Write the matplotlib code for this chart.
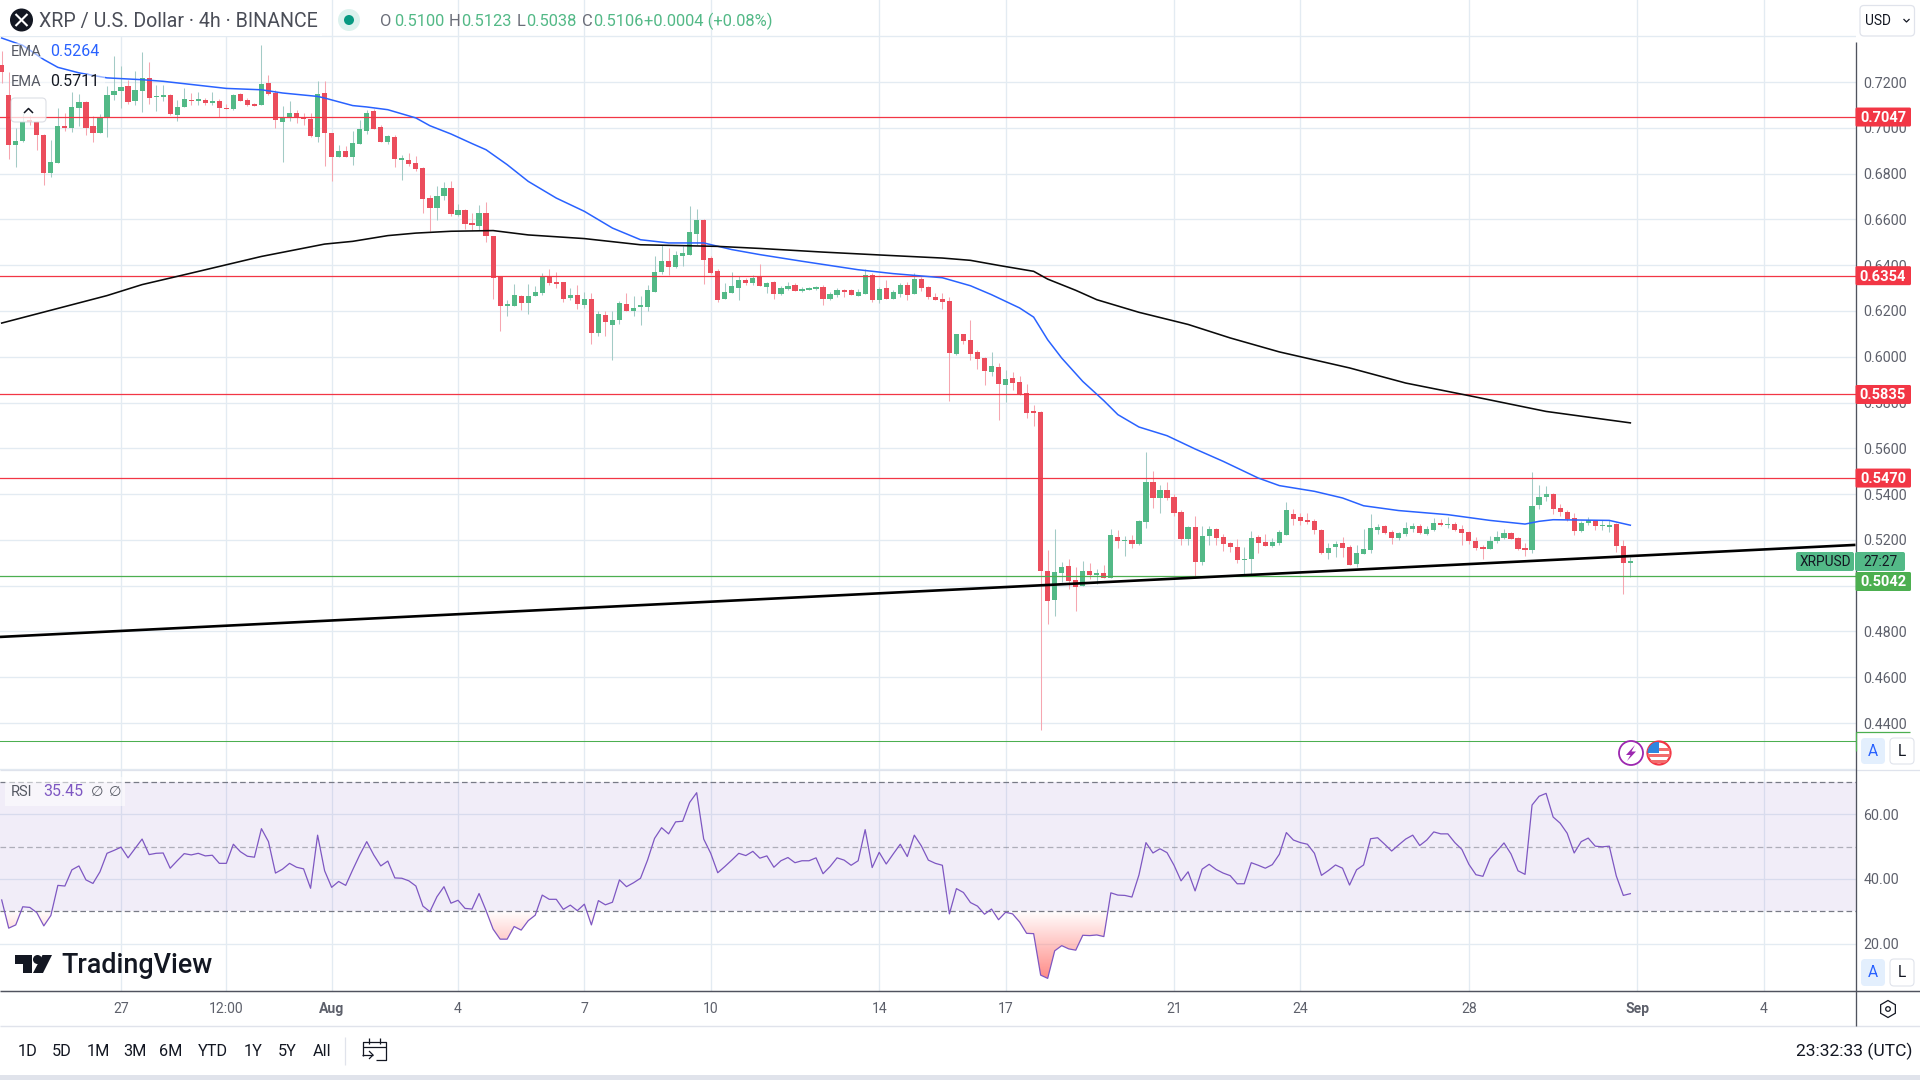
import numpy as np
import matplotlib
matplotlib.use("Agg")
import matplotlib.pyplot as plt
from matplotlib.patches import Rectangle, FancyBboxPatch, Circle, Polygon, RegularPolygon, PathPatch
from matplotlib.path import Path

plt.rcParams['font.family'] = ['Roboto', 'DejaVu Sans']

highs = [.7334,.7242,.7000,.7065,.7057,.7028,.6973,.6948,.7086,.7065,
 .7155,.7148,.7118,.7050,.7062,.7184,.7315,.7268,.7210,.7247,
 .7329,.7286,.7188,.7188,.7148,.7123,.7174,.7152,.7155,.7130,
 .7155,.7126,.7105,.7148,.7152,.7130,.7108,.7363,.7232,.7164,
 .7094,.7116,.7079,.7065,.7065,.7203,.7206,.6979,.6926,.6919,
 .6984,.7035,.7079,.7082,.7014,.6970,.6970,.6883,.6890,.6875,
 .6829,.6705,.6744,.6762,.6769,.6668,.6645,.6628,.6664,.6674,
 .6529,.6351,.6249,.6319,.6271,.6319,.6307,.6366,.6385,.6370,
 .6328,.6300,.6315,.6281,.6278,.6198,.6198,.6198,.6242,.6278,
 .6264,.6267,.6315,.6438,.6489,.6475,.6460,.6482,.6660,.6647,
 .6603,.6441,.6385,.6322,.6372,.6354,.6344,.6358,.6406,.6326,
 .6332,.6310,.6328,.6322,.6305,.6305,.6310,.6315,.6284,.6300,
 .6297,.6296,.6296,.6383,.6366,.6305,.6337,.6293,.6322,.6326,
 .6366,.6347,.6310,.6278,.6278,.6262,.6101,.6101,.6162,.6031,
 .5999,.6022,.5974,.5943,.5935,.5917,.5882,.5791,.5764,.5157,
 .5249,.5105,.5118,.5083,.5109,.5100,.5074,.5092,.5249,.5245,
 .5218,.5223,.5288,.5585,.5502,.5441,.5454,.5402,.5332,.5262,
 .5306,.5262,.5259,.5253,.5227,.5192,.5205,.5170,.5240,.5223,
 .5227,.5208,.5244,.5367,.5336,.5317,.5317,.5291,.5249,.5186,
 .5196,.5214,.5179,.5179,.5249,.5314,.5271,.5266,.5245,.5236,
 .5280,.5275,.5271,.5262,.5297,.5293,.5301,.5277,.5266,.5239,
 .5214,.5179,.5218,.5240,.5249,.5236,.5214,.5188,.5498,.5441,
 .5437,.5405,.5358,.5332,.5319,.5284,.5301,.5288,.5288,.5288,
 .5273,.5201,.5123]
lows = [.7196,.6864,.6827,.6936,.7014,.6901,.6751,.6784,.6848,.6984,
 .6980,.7006,.6970,.6936,.6977,.6958,.7123,.7086,.7105,.7101,
 .7067,.7105,.7075,.7116,.7054,.7028,.7091,.7101,.7101,.7101,
 .7101,.7047,.7082,.7079,.7116,.7097,.7094,.7101,.7145,.7000,
 .6849,.7028,.7021,.7014,.6958,.6936,.6832,.6766,.6872,.6872,
 .6839,.6931,.6974,.6995,.6936,.6931,.6827,.6770,.6834,.6810,
 .6628,.6548,.6596,.6686,.6616,.6616,.6558,.6555,.6555,.6500,
 .6252,.6111,.6179,.6223,.6205,.6188,.6267,.6271,.6315,.6300,
 .6238,.6249,.6210,.6213,.6057,.6092,.6089,.5987,.6144,.6198,
 .6179,.6140,.6201,.6284,.6363,.6358,.6387,.6398,.6446,.6489,
 .6319,.6363,.6240,.6254,.6280,.6249,.6315,.6315,.6310,.6280,
 .6254,.6271,.6293,.6286,.6281,.6290,.6290,.6227,.6249,.6261,
 .6261,.6268,.6267,.6275,.6240,.6236,.6251,.6251,.6262,.6249,
 .6275,.6289,.6254,.6248,.6210,.5808,.6009,.6057,.5987,.5948,
 .5878,.5917,.5725,.5804,.5856,.5834,.5734,.5699,.4371,.4834,
 .4869,.5017,.4987,.4891,.5000,.5030,.5009,.5032,.5035,.5166,
 .5131,.5163,.5179,.5253,.5341,.5319,.5376,.5306,.5179,.5179,
 .5039,.5092,.5179,.5179,.5153,.5148,.5100,.5048,.5048,.5144,
 .5172,.5170,.5179,.5223,.5266,.5266,.5269,.5227,.5140,.5118,
 .5127,.5127,.5092,.5083,.5140,.5144,.5227,.5227,.5183,.5201,
 .5218,.5236,.5227,.5223,.5240,.5262,.5253,.5240,.5179,.5183,
 .5157,.5118,.5160,.5188,.5205,.5202,.5157,.5131,.5144,.5336,
 .5371,.5314,.5306,.5284,.5223,.5236,.5266,.5245,.5245,.5236,
 .5148,.4965,.5038]
opens = [.7276,.7145,.6923,.6941,.7035,.7024,.6970,.6804,.6848,.7009,
 .7000,.7086,.7114,.7009,.6979,.7041,.7145,.7159,.7184,.7118,
 .7162,.7219,.7133,.7133,.7145,.7057,.7092,.7123,.7118,.7123,
 .7110,.7118,.7088,.7083,.7149,.7123,.7104,.7101,.7197,.7153,
 .7024,.7046,.7066,.7047,.7040,.6961,.7153,.6979,.6874,.6900,
 .6871,.6931,.6987,.7075,.7005,.6939,.6961,.6861,.6861,.6848,
 .6826,.6695,.6651,.6703,.6738,.6620,.6642,.6585,.6572,.6629,
 .6529,.6351,.6223,.6223,.6267,.6236,.6267,.6280,.6354,.6328,
 .6328,.6258,.6271,.6227,.6254,.6105,.6184,.6140,.6162,.6232,
 .6198,.6216,.6216,.6284,.6372,.6420,.6393,.6441,.6446,.6537,
 .6599,.6433,.6376,.6254,.6280,.6302,.6337,.6323,.6353,.6306,
 .6328,.6275,.6297,.6315,.6288,.6293,.6297,.6306,.6254,.6271,
 .6293,.6293,.6267,.6275,.6358,.6249,.6302,.6254,.6275,.6315,
 .6275,.6341,.6306,.6262,.6254,.6245,.6013,.6101,.6074,.6022,
 .5996,.5935,.5957,.5878,.5909,.5891,.5843,.5764,.5760,.5065,
 .4939,.5057,.5087,.5026,.5000,.5065,.5048,.5057,.5035,.5214,
 .5196,.5201,.5182,.5280,.5454,.5384,.5419,.5389,.5323,.5205,
 .5258,.5105,.5218,.5249,.5214,.5188,.5170,.5113,.5118,.5214,
 .5192,.5175,.5188,.5223,.5314,.5301,.5288,.5284,.5245,.5144,
 .5170,.5188,.5170,.5096,.5140,.5157,.5245,.5262,.5236,.5210,
 .5227,.5249,.5262,.5227,.5245,.5275,.5266,.5271,.5249,.5236,
 .5196,.5166,.5162,.5196,.5210,.5231,.5210,.5166,.5157,.5354,
 .5389,.5402,.5341,.5323,.5297,.5240,.5275,.5284,.5259,.5258,
 .5271,.5175,.5100]
closes = [.7242,.6926,.6942,.7024,.7024,.6967,.6801,.6852,.7009,.7000,
 .7092,.7114,.7000,.6977,.7047,.7145,.7161,.7178,.7114,.7166,
 .7219,.7132,.7140,.7145,.7059,.7092,.7127,.7116,.7127,.7110,
 .7118,.7085,.7083,.7145,.7118,.7101,.7097,.7193,.7149,.7033,
 .7047,.7066,.7046,.7040,.6964,.7149,.6979,.6874,.6900,.6874,
 .6935,.6996,.7066,.6996,.6939,.6965,.6865,.6865,.6843,.6821,
 .6690,.6651,.6703,.6738,.6625,.6642,.6581,.6577,.6629,.6529,
 .6345,.6223,.6232,.6271,.6236,.6267,.6284,.6354,.6323,.6319,
 .6254,.6271,.6232,.6254,.6105,.6188,.6153,.6162,.6236,.6198,
 .6213,.6227,.6293,.6372,.6420,.6393,.6446,.6454,.6546,.6599,
 .6424,.6367,.6249,.6284,.6310,.6337,.6323,.6345,.6310,.6323,
 .6275,.6302,.6310,.6288,.6297,.6297,.6306,.6254,.6275,.6293,
 .6284,.6271,.6284,.6358,.6249,.6297,.6254,.6284,.6315,.6271,
 .6341,.6302,.6262,.6249,.6240,.6018,.6101,.6070,.6013,.5991,
 .5939,.5961,.5882,.5904,.5887,.5839,.5756,.5756,.5065,.4934,
 .5061,.5083,.5022,.4996,.5065,.5048,.5057,.5035,.5223,.5196,
 .5201,.5183,.5284,.5454,.5384,.5419,.5384,.5319,.5205,.5258,
 .5105,.5218,.5249,.5210,.5183,.5170,.5113,.5118,.5210,.5188,
 .5175,.5192,.5236,.5332,.5293,.5284,.5280,.5245,.5144,.5166,
 .5183,.5166,.5092,.5144,.5162,.5253,.5258,.5231,.5210,.5231,
 .5253,.5262,.5231,.5249,.5275,.5266,.5271,.5245,.5231,.5196,
 .5166,.5162,.5196,.5214,.5231,.5205,.5162,.5157,.5349,.5389,
 .5402,.5336,.5323,.5293,.5240,.5275,.5288,.5262,.5262,.5266,
 .5175,.5100,.5106]
rsi = [33.5,24.8,25.8,31.4,31.2,29.6,25.5,28.7,38.0,37.8,
 42.8,44.0,39.7,38.6,42.2,47.9,48.8,49.8,46.5,49.4,
 52.3,47.5,47.9,48.0,43.3,45.6,47.8,47.4,47.9,47.1,
 47.3,44.8,44.8,50.7,48.4,47.0,46.7,55.5,51.5,41.8,
 43.0,44.8,43.6,43.1,37.1,53.5,42.5,37.4,39.2,38.0,
 42.8,47.4,51.5,47.4,44.0,45.5,40.3,40.2,39.4,37.8,
 31.6,29.9,34.5,37.6,32.5,33.4,30.9,30.7,35.5,30.2,
 24.5,21.4,21.4,25.3,24.2,27.1,28.8,35.0,33.7,33.7,
 30.6,31.9,30.2,32.2,25.8,33.3,32.0,32.8,39.7,37.6,
 38.8,40.2,45.8,52.5,55.8,53.9,57.6,57.8,63.6,66.6,
 52.3,47.9,41.9,43.8,45.8,47.9,47.2,48.5,46.4,47.1,
 43.6,45.6,46.6,45.0,45.6,45.6,46.5,41.6,43.8,46.5,
 45.8,44.2,45.6,55.2,43.5,48.2,44.6,47.7,50.7,46.9,
 53.5,50.2,45.8,44.8,44.2,29.2,37.0,35.8,32.7,31.6,
 29.1,30.7,27.4,29.7,29.2,26.7,23.2,23.1,10.3,9.3,
 17.8,19.4,18.4,18.0,22.6,22.5,22.7,22.2,35.7,35.0,
 34.9,34.4,41.2,51.2,48.0,49.3,48.1,44.2,39.4,42.2,
 36.3,43.0,44.5,42.9,41.8,41.0,38.5,38.5,45.0,44.2,
 43.3,44.4,47.6,54.3,52.0,51.2,50.7,47.9,41.1,42.6,
 44.3,43.3,38.1,42.8,44.3,52.4,52.7,50.7,48.6,50.5,
 52.3,53.5,50.3,52.0,54.5,53.9,53.9,51.2,49.1,44.5,
 41.3,40.8,46.2,48.6,51.1,47.7,42.5,41.4,62.8,65.5,
 66.4,59.1,57.2,54.1,48.0,51.5,52.6,50.1,49.9,50.1,
 40.9,34.9,35.45]

ema50_bars = [0,3,6,8,11,15,20,23,32,37,40,45,46,50,52,55,59,61,64,67,69,72,75,79,83,87,91,
 95,100,104,108,114,122,127,134,138,141,145,147,149,151,154,157,159,162,166,170,174,179,182,
 187,191,194,199,206,212,217,219,221,229,232]
ema50_vals = [.7392,.7360,.7298,.7264,.7240,.7218,.7210,.7203,.7172,.7166,.7152,.7137,.7130,.7097,.7091,.7079,
 .7043,.7009,.6973,.6931,.6904,.6839,.6766,.6693,.6635,.6562,.6511,
 .6497,.6497,.6468,.6446,.6417,.6380,.6363,.6345,.6310,.6271,.6213,.6173,.6074,.5994,.5892,.5808,
 .5747,.5693,.5655,.5597,.5543,.5470,.5437,.5412,.5383,.5349,.5328,.5310,.5285,.5269,.5281,.5288,.5285,.5264]
ema200_bars = [0,7,15,20,26,37,46,50,55,59,64,70,75,83,91,102,108,117,126,134,138,142,147,149,153,156,162,169,175,182,192,200,209,220,232]
ema200_vals = [.6147,.6203,.6267,.6315,.6358,.6438,.6492,.6504,.6529,.6540,.6548,.6551,.6532,.6516,.6489,
 .6482,.6473,.6457,.6443,.6431,.6421,.6399,.6373,.6339,.6290,.6249,.6194,.6141,.6082,.6021,.5951,.5885,.5830,.5761,.5711]

levels_red = [.7047,.6354,.5835,.5470]
level_green = .5042
trend_prices = [.4776,.5178]
price_ticks = [.74,.72,.70,.68,.66,.64,.62,.60,.58,.56,.54,.52,.50,.48,.46,.44,.42]
price_labels = ['','0.7200','0.7000','0.6800','0.6600','0.6400','0.6200','0.6000','0.5800','0.5600','0.5400','0.5200','','0.4800','0.4600','0.4400','']
rsi_ticks = [60,40,20]
rsi_labels = ['60.00','40.00','20.00']
time_pos = [17,32,47,65,83,101,125,143,167,185,209,233,251]
time_labels = ['27','12:00','Aug','4','7','10','14','17','21','24','28','Sep','4']
ranges = ['1D','5D','1M','3M','6M','YTD','1Y','5Y','All']

W, H = 1920, 1080
GRID = '#e3ebf2'; UP = '#53b987'; DOWN = '#eb4d5c'
UPW = '#a3cbc6'; DOWNW = '#f6a6b0'; LRED = '#f23645'; LGRN = '#4caf50'
AXC = '#50535e'; TXT = '#5d606b'

# scales
PX_PER_PRICE = 2289.3
Y072 = 82.0
X0, DX = 1.7, 7.02
AX_R = 1855.5
def pr_at(y): return .72 + (Y072 - y) / PX_PER_PRICE
def y_of(p): return Y072 + (.72 - p) * PX_PER_PRICE
def bar_at(x): return (x - X0) / DX

fig = plt.figure(figsize=(19.2, 10.8), dpi=100, facecolor='white')
def add(l, t, r, b, **k):
    return fig.add_axes([l/W, 1-b/H, (r-l)/W, (b-t)/H], **k)

ax = add(0, 0, AX_R, 770)
ax2 = add(0, 770, AX_R, 991)
xl = (bar_at(0), bar_at(AX_R))
bars = np.arange(len(opens))
o, h, l, c = map(np.array, (opens, highs, lows, closes))
up = c >= o

for a in (ax, ax2):
    a.set_xlim(*xl)
    a.set_xticks(time_pos)
    for s in a.spines.values():
        s.set_visible(False)
    a.grid(True, color=GRID, lw=0.95, zorder=0)
    a.set_axisbelow(True)
    a.yaxis.tick_right()
    a.tick_params(length=0, labelsize=14.2*0.72, labelcolor=TXT, pad=5.8)

ax.set_ylim(pr_at(770), pr_at(0))
ax.set_yticks(price_ticks, price_labels)
ax.tick_params(axis='x', labelbottom=False)

ax.vlines(bars, l, h, colors=[UPW if u else DOWNW for u in up], lw=0.75, zorder=2)
ax.bar(bars, np.maximum(np.abs(c-o), .0005), bottom=np.minimum(o, c), width=0.74,
       color=[UP if u else DOWN for u in up], linewidth=0, zorder=3)
for p in levels_red:
    ax.axhline(p, color=LRED, lw=0.9, zorder=4)
ax.axhline(level_green, color=LGRN, lw=0.9, zorder=4)
ax.plot(ema50_bars, ema50_vals, color='#2962ff', lw=1.1, zorder=5)
ax.plot(ema200_bars, ema200_vals, color='#0a0a0a', lw=1.15, zorder=5)
ax.plot(xl, trend_prices, color='black', lw=1.9, zorder=6, solid_capstyle='butt')
ax.axhline(pr_at(741), color=LGRN, lw=0.75, zorder=4)

# RSI
ax2.set_ylim(30 + (911.3-991)/3.24, 30 + (911.3-770)/3.24)
ax2.set_yticks(rsi_ticks, rsi_labels)
ax2.set_xticklabels(time_labels)
ax2.tick_params(axis='x', pad=8.2, labelsize=14*0.72)
for t, s in zip(ax2.get_xticklabels(), time_labels):
    if s in ('Aug', 'Sep'):
        t.set_fontweight('bold')
ax2.axhspan(30, 70, color='#7e57c2', alpha=.1, lw=0, zorder=1)
for lv, al in ((70, 1), (50, .55), (30, 1)):
    ax2.axhline(lv, color='#787b86', lw=0.9, alpha=al, dashes=(4.5, 2.6), zorder=2)
r = np.array(rsi)
fb = ax2.fill_between(bars, r, 30, where=r < 30, interpolate=True, facecolor='none', edgecolor='none')
path = Path.make_compound_path(*fb.get_paths())
grad = np.zeros((128, 2, 4))
grad[..., :3] = matplotlib.colors.to_rgb('#ff8a85')
grad[..., 3] = np.linspace(0, 1, 128)[:, None]
im = ax2.imshow(grad, extent=(xl[0], xl[1], 9, 30), origin='upper', aspect='auto', zorder=2)
im.set_clip_path(PathPatch(path, transform=ax2.transData))
ax2.set_xlim(*xl)
ax2.set_ylim(30 + (911.3-991)/3.24, 30 + (911.3-770)/3.24)
ax2.plot(bars, r, color='#7e57c2', lw=0.9, zorder=4)

# overlay in pixels for the surrounding chart furniture
ov = fig.add_axes([0, 0, 1, 1], zorder=10)
ov.set_xlim(0, W); ov.set_ylim(H, 0); ov.axis('off'); ov.patch.set_alpha(0)
def T(x, y, s, px=13.4, color=TXT, ha='left', weight='normal', **k):
    return ov.text(x, y, s, fontsize=px*.72, color=color, ha=ha, va='center', fontweight=weight, **k)
def R(x0, y0, x1, y1, fc, alpha=1, z=1):
    ov.add_patch(Rectangle((x0, y0), x1-x0, y1-y0, fc=fc, ec='none', alpha=alpha, zorder=z))
def RB(x0, y0, x1, y1, fc, ec='none', rad=3, alpha=1, z=2, lw=.8):
    ov.add_patch(FancyBboxPatch((x0+rad, y0+rad), x1-x0-2*rad, y1-y0-2*rad,
        boxstyle=f'round,pad={rad},rounding_size={rad}', fc=fc, ec=ec, lw=lw, alpha=alpha, zorder=z))
def L(xs, ys, color, lw=.75, z=3, **k):
    ov.plot(xs, ys, color=color, lw=lw, zorder=z, solid_capstyle=k.pop('cap', 'butt'), **k)

# frame lines
L([0, W], [770, 770], '#dfe3ec', .9)
L([0, W], [991, 991], AXC, 1.05)
L([0, AX_R], [1026, 1026], '#e0e3eb', 1.0)
L([AX_R, W], [1026, 1026], '#e0e3eb', 1.0)
L([AX_R, AX_R], [42, 1026], AXC, 0.95)
L([AX_R, 1910], [732, 732], LGRN, .9)
L([AX_R, AX_R], [732, 751], LGRN, .9, z=4)
R(0, 1075, W, 1080, '#e0e3eb')

# header
R(0, 0, 322, 36, 'white')
ov.add_patch(Circle((21.5, 20), 11.5, fc='#131722', ec='none', zorder=2))
L([15.5, 27.5], [14, 26], 'white', 1.5, z=3); L([15.5, 27.5], [26, 14], 'white', 1.5, z=3)
T(39, 21.5, 'XRP / U.S. Dollar · 4h · BINANCE', 19.7, '#4a4d57')
ov.add_patch(Circle((349, 20), 11, fc='#ddf2ee', ec='none', zorder=2))
ov.add_patch(Circle((349, 20), 5, fc='#089981', ec='none', zorder=3))
GV = '#53b987'; GL = '#6a6d78'
for lx, lab, vx, val in ((380, 'O', 394, '0.5100'), (449, 'H', 461, '0.5123'), (517, 'L', 526, '0.5038'), (582, 'C', 593, '0.5106')):
    T(lx, 21, lab, 16.5, GL); T(vx, 21, val, 16.5, GV)
T(644, 21, '+0.0004 (+0.08%)', 16.5, GV)

# legend rows
R(10, 43, 105, 58, 'white', .55); R(10, 74, 105, 89, 'white', .55)
T(11, 52, 'EMA', 14.6, '#555862'); T(50, 52, '0.5264', 16, '#2962ff')
T(11, 82, 'EMA', 14.6, '#555862'); T(50, 82, '0.5711', 16, '#131722')
RB(11, 98, 46, 122, 'white', '#d1d4dc', 4, .75)
L([24, 28.5, 33], [113, 108.5, 113], '#131722', 1.1)

# right scale furniture
RB(1860, 5.5, 1914.5, 36, 'white', '#e0e3eb', 4, lw=.9)
T(1865, 21, 'USD', 13.8, '#131722')
L([1903.5, 1906.5, 1909.5], [19, 22, 19], '#131722', .9)
for p, s in zip(levels_red, ('0.7047', '0.6354', '0.5835', '0.5470')):
    y = y_of(p)
    RB(AX_R, y-9.5, 1911, y+9.5, LRED, rad=1.5, z=4)
    T(1883, y+1, s, 14.6, 'white', 'center', 'bold', zorder=5)
RB(AX_R, 572, 1911, 591, LGRN, rad=1.5, z=4)
T(1883, 582.5, '0.5042', 14.6, 'white', 'center', 'bold', zorder=5)
RB(1796, 552, 1854, 571, UP, rad=2, z=4)
RB(1855, 552, 1905, 571, UP, rad=2, z=4)
T(1825, 562, 'XRPUSD', 13.8, '#131722', 'center', zorder=5)
T(1880, 562, '27:27', 13.8, '#131722', 'center', zorder=5)
for t, b in ((738, 764), (959, 986)):
    RB(1861, t, 1885, b, '#e3effd', rad=4, z=4)
    T(1873, (t+b)/2, 'A', 15.5, '#2962ff', 'center', zorder=5)
    RB(1890, t, 1914, b, 'white', '#e0e3eb', 4, z=4)
    T(1902, (t+b)/2, 'L', 15.5, '#131722', 'center', zorder=5)
ov.add_patch(RegularPolygon((1888, 1009), 6, radius=8.5, fc='white', ec='#131722', lw=.9, zorder=3))
ov.add_patch(Circle((1888, 1009), 2.3, fc='white', ec='#131722', lw=.9, zorder=4))

# event icons
ov.add_patch(Circle((1631, 753), 12, fc='white', ec='#9c27b0', lw=1.3, zorder=4))
ov.add_patch(Polygon([(1635, 745), (1626, 755), (1630.5, 755), (1627, 761), (1636, 751.5), (1631.5, 751.5)], fc='#9c27b0', ec='none', zorder=5))
flag = Circle((1659, 753), 11.5, fc='white', ec='#f23645', lw=1.6, zorder=4)
ov.add_patch(flag)
for yy in (749, 755, 761):
    bar = Rectangle((1647, yy-1.5), 24, 3.5, fc='#f26d6d', ec='none', zorder=5); ov.add_patch(bar); bar.set_clip_path(flag)
can = Rectangle((1647, 742), 12, 11, fc='#2e86de', ec='none', zorder=6); ov.add_patch(can); can.set_clip_path(flag)

# RSI legend
R(5, 777, 125, 806, 'white', .55)
T(11, 792, 'RSI', 14.6, '#555862'); T(43, 792, '35.45', 16, '#7e57c2')
T(91, 792, '∅', 14.4, '#555862'); T(109, 792, '∅', 14.4, '#555862')

# TradingView mark
ov.add_patch(Polygon([(15, 955), (32, 955), (32, 973), (23, 973), (23, 964), (15, 964)], fc='#131722', ec='none', zorder=3))
ov.add_patch(Circle((37.5, 959.5), 4.5, fc='#131722', ec='none', zorder=3))
ov.add_patch(Polygon([(42.5, 955), (52, 955), (43, 973), (33, 973)], fc='#131722', ec='none', zorder=3))
T(61, 965.5, 'TradingView', 26.9, '#131722', weight='medium')

# bottom toolbar
for cx, s in zip((28, 62, 98, 135, 171, 213, 253, 287, 322), ranges):
    T(cx, 1051.5, s, 16.2, '#131722', 'center')
L([345, 345], [1037, 1065], '#e0e3eb', .9)
L([363, 363, 386, 386, 376], [1056, 1042, 1042, 1060, 1060], '#131722', .9)
L([363, 386], [1047, 1047], '#131722', .9)
L([369, 369], [1038, 1044], '#131722', .9); L([380, 380], [1038, 1044], '#131722', .9)
L([362, 373], [1055, 1055], '#131722', .9); L([369, 373, 369], [1051, 1055, 1059], '#131722', .9)
T(1912, 1051.5, '23:32:33 (UTC)', 17.5, '#131722', 'right')

fig.savefig('out.png', dpi=100, facecolor='white')
